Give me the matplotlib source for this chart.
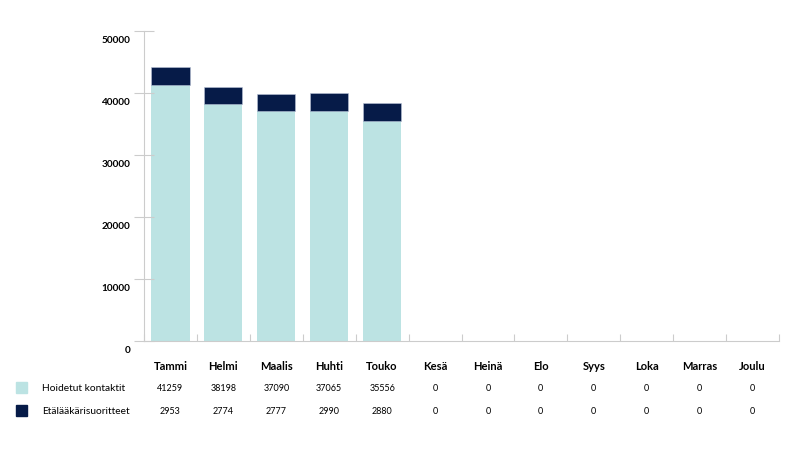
import matplotlib.pyplot as plt
import matplotlib.transforms as mtransforms
import numpy as np

months = ['Tammi', 'Helmi', 'Maalis', 'Huhti', 'Touko', 'Kesä', 'Heinä',
          'Elo', 'Syys', 'Loka', 'Marras', 'Joulu']
hoidetut = [41259, 38198, 37090, 37065, 35556, 0, 0, 0, 0, 0, 0, 0]
etalaakari = [2953, 2774, 2777, 2990, 2880, 0, 0, 0, 0, 0, 0, 0]
series_names = ['Hoidetut kontaktit', 'Etälääkärisuoritteet']
y_ticks = [0, 10000, 20000, 30000, 40000, 50000]

light = '#bce3e3'
dark = '#061b48'
grey = '#cccccc'
plt.rcParams['font.family'] = ['Lato', 'DejaVu Sans']

fig = plt.figure(figsize=(7.95, 4.77), dpi=100)
ax = fig.add_axes([144 / 795, 1 - 342 / 477, 635 / 795, 310 / 477])

x = np.arange(len(months))
ax.bar(x, hoidetut, width=0.72, color=light, edgecolor='none')
ax.bar(x, etalaakari, bottom=hoidetut, width=0.72, color=dark,
       edgecolor='#b8c2d6', linewidth=0.4)

ax.set_xlim(-0.5, len(months) - 0.5)
ax.set_ylim(0, 50000)
for s in ['top', 'right']:
    ax.spines[s].set_visible(False)
ax.spines['left'].set_color(grey)
ax.spines['bottom'].set_color(grey)

ax.set_yticks(y_ticks)
ax.set_yticklabels([str(v) for v in y_ticks], fontsize=7.2, fontweight='bold')
ax.tick_params(axis='y', direction='inout', length=14, color=grey, pad=3)
offset = mtransforms.ScaledTranslation(0, -8 / 100, fig.dpi_scale_trans)
for lab in ax.get_yticklabels():
    lab.set_transform(lab.get_transform() + offset)

ax.set_xticks(np.arange(len(months) + 1) - 0.5)
ax.set_xticklabels([])
ax.tick_params(axis='x', direction='in', length=5, color=grey)

# table below the chart
trans = mtransforms.blended_transform_factory(ax.transData, fig.transFigure)
for i, m in enumerate(months):
    ax.text(i, 1 - 370 / 477, m, transform=trans, ha='center', va='baseline',
            fontsize=8, fontweight='bold')
    ax.text(i, 1 - 391 / 477, str(hoidetut[i]), transform=trans, ha='center',
            va='baseline', fontsize=6.5)
    ax.text(i, 1 - 414 / 477, str(etalaakari[i]), transform=trans, ha='center',
            va='baseline', fontsize=6.5)

for name, col, yy in [(series_names[0], light, 388), (series_names[1], dark, 411)]:
    fig.patches.append(plt.Rectangle((16 / 795, 1 - (yy + 5.5) / 477), 11 / 795, 11 / 477,
                                     transform=fig.transFigure, color=col))
    fig.text(42 / 795, 1 - (yy + 3) / 477, name, ha='left', va='baseline', fontsize=7.4)

fig.savefig('out.png', dpi=100)
